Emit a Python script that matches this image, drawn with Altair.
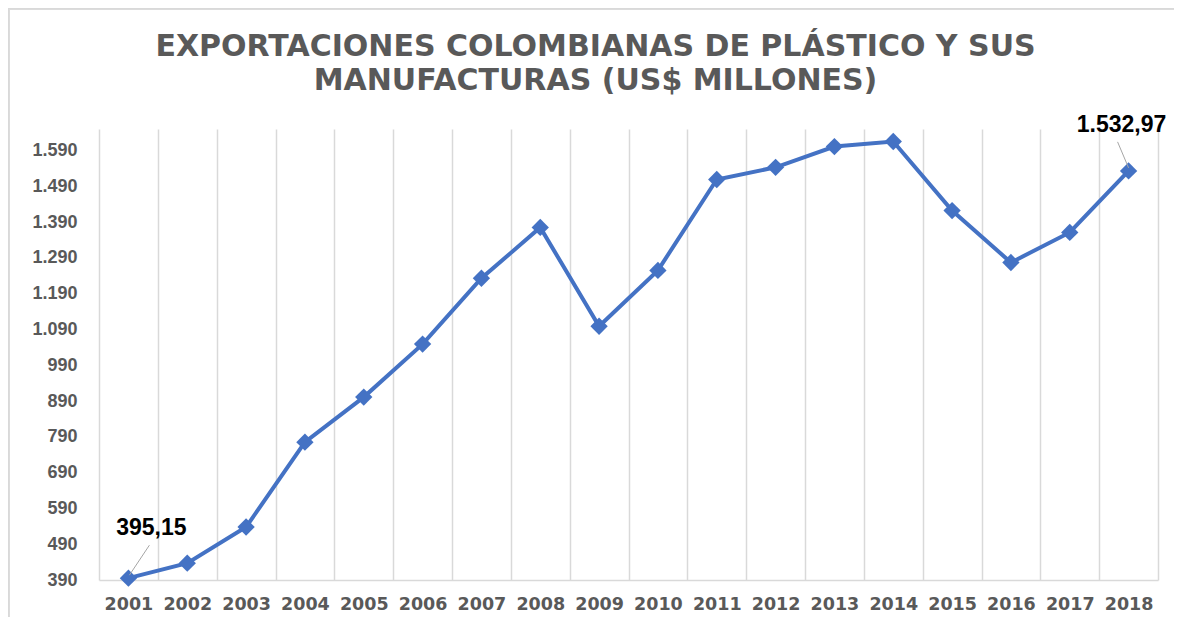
import altair as alt
import pandas as pd

years = [str(y) for y in range(2001, 2019)]
values = [395.15, 437, 538, 775, 901, 1049, 1233, 1375, 1099, 1255,
          1509, 1543, 1601, 1615, 1422, 1277, 1361, 1532.97]
label_texts = ["395,15", "1.532,97"]
label_years = ["2001", "2018"]
y_ticks = list(range(390, 1591, 100))

df = pd.DataFrame({"year": years, "value": values})
lab = pd.DataFrame({"year": label_years,
                    "value": [values[0], values[-1]],
                    "text": label_texts})

W, H = 1059, 451
LINE = "#4472C4"
GRAY = "#595959"
FONT = "Liberation Sans"
WIDE = "DejaVu Sans"

xscale = alt.Scale(type="band", paddingInner=0, paddingOuter=0)
yscale = alt.Scale(domain=[390, 1650], nice=False, zero=False)
xaxis = alt.Axis(title=None, tickBand="extent", grid=True, gridColor="#d9d9d9",
                 gridWidth=1.5, ticks=False, domainColor="#d9d9d9", domainWidth=1.5,
                 labelFont=WIDE, labelFontSize=17.5, labelFontWeight="bold",
                 labelColor=GRAY, labelPadding=15, labelAngle=0)
yaxis = alt.Axis(title=None, values=y_ticks, grid=False, ticks=False, domain=False,
                 labelOverlap=False,
                 labelExpr="replace(format(datum.value, ','), ',', '.')",
                 labelFont=FONT, labelFontSize=18, labelFontWeight="bold",
                 labelColor=GRAY, labelPadding=22)
x = alt.X("year:O", scale=xscale, axis=xaxis)
y = alt.Y("value:Q", scale=yscale, axis=yaxis)

base = alt.Chart(df)
line = base.mark_line(color=LINE, strokeWidth=4).encode(x=x, y=y)
pts = base.mark_point(shape="diamond", filled=True, opacity=1, color=LINE, size=300).encode(x=x, y=y)

lab1 = alt.Chart(lab).transform_filter(alt.datum.year == "2001")
lab2 = alt.Chart(lab).transform_filter(alt.datum.year == "2018")
t1 = lab1.mark_text(font=FONT, fontSize=23, fontWeight="bold", color="black",
                    dx=23, dy=-50, baseline="middle", align="center").encode(
    x=x, y=y, text="text:N")
t2 = lab2.mark_text(font=FONT, fontSize=23, fontWeight="bold", color="black",
                    dx=-7, dy=-46, baseline="middle", align="center").encode(
    x=x, y=y, text="text:N")
r1 = lab1.mark_rule(color="#a6a6a6", strokeWidth=1, xOffset=1, yOffset=-3,
                    x2Offset=21, y2Offset=-33).encode(
    x=x, y=y, x2="year:O", y2="value:Q")
r2 = lab2.mark_rule(color="#a6a6a6", strokeWidth=1, xOffset=0, yOffset=-3,
                    x2Offset=-11, y2Offset=-29).encode(
    x=x, y=y, x2="year:O", y2="value:Q")

border_top = alt.Chart(df).mark_rule(color="#d9d9d9", strokeWidth=1.5).encode(
    x=alt.value(-91), x2=alt.value(W + 40), y=alt.value(-120.5))
border_left = alt.Chart(df).mark_rule(color="#d9d9d9", strokeWidth=1.5).encode(
    x=alt.value(-90.5), y=alt.value(-121), y2=alt.value(H + 40))

chart = alt.layer(border_top, border_left, line, pts, r1, r2, t1, t2).properties(
    width=W, height=H,
    background="white",
    autosize=alt.AutoSizeParams(type="none"),
    padding={"left": 91, "top": 121, "right": 16, "bottom": 37},
    title=alt.TitleParams(
        text=["EXPORTACIONES COLOMBIANAS DE PLÁSTICO Y SUS",
              "MANUFACTURAS (US$ MILLONES)"],
        font=WIDE, fontSize=30, fontWeight="bold", color=GRAY,
        anchor="middle", dx=-33, offset=-89, lineHeight=34),
).configure_view(stroke=None)

chart.save("out.html", embed_options={"renderer": "svg", "actions": False})
